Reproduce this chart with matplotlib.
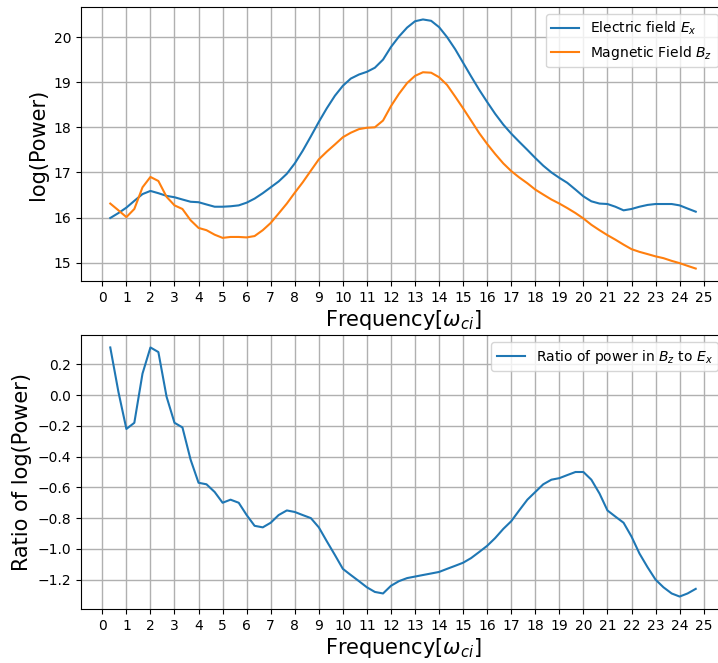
import numpy as np
import matplotlib
matplotlib.use("Agg")
import matplotlib.pyplot as plt

# frequency samples (units of omega_ci), every third of a unit
freq = [0.33, 0.67, 1.00, 1.33, 1.67, 2.00, 2.33, 2.67, 3.00, 3.33,
        3.67, 4.00, 4.33, 4.67, 5.00, 5.33, 5.67, 6.00, 6.33, 6.67,
        7.00, 7.33, 7.67, 8.00, 8.33, 8.67, 9.00, 9.33, 9.67, 10.00,
        10.33, 10.67, 11.00, 11.33, 11.67, 12.00, 12.33, 12.67, 13.00, 13.33,
        13.67, 14.00, 14.33, 14.67, 15.00, 15.33, 15.67, 16.00, 16.33, 16.67,
        17.00, 17.33, 17.67, 18.00, 18.33, 18.67, 19.00, 19.33, 19.67, 20.00,
        20.33, 20.67, 21.00, 21.33, 21.67, 22.00, 22.33, 22.67, 23.00, 23.33,
        23.67, 24.00, 24.33, 24.67]

log_ex = [15.99, 16.10, 16.22, 16.37, 16.52, 16.59, 16.54, 16.48, 16.45, 16.40,
          16.35, 16.34, 16.29, 16.24, 16.24, 16.25, 16.27, 16.33, 16.42, 16.54,
          16.67, 16.80, 16.97, 17.20, 17.48, 17.80, 18.12, 18.42, 18.70, 18.92,
          19.08, 19.17, 19.23, 19.32, 19.50, 19.78, 20.01, 20.21, 20.35, 20.39,
          20.36, 20.22, 20.00, 19.73, 19.43, 19.13, 18.83, 18.56, 18.30, 18.06,
          17.86, 17.68, 17.50, 17.32, 17.15, 17.00, 16.88, 16.77, 16.62, 16.47,
          16.36, 16.31, 16.30, 16.24, 16.16, 16.19, 16.24, 16.28, 16.30, 16.30,
          16.30, 16.27, 16.20, 16.13]

log_bz = [16.31, 16.16, 16.01, 16.19, 16.67, 16.90, 16.81, 16.46, 16.27, 16.19,
          15.94, 15.77, 15.72, 15.62, 15.55, 15.57, 15.57, 15.56, 15.59, 15.72,
          15.88, 16.09, 16.31, 16.55, 16.78, 17.04, 17.29, 17.46, 17.62, 17.78,
          17.88, 17.96, 17.99, 18.00, 18.15, 18.47, 18.74, 18.98, 19.14, 19.22,
          19.21, 19.11, 18.94, 18.68, 18.42, 18.15, 17.87, 17.63, 17.41, 17.20,
          17.03, 16.89, 16.76, 16.62, 16.51, 16.40, 16.31, 16.21, 16.10, 15.98,
          15.84, 15.72, 15.61, 15.51, 15.40, 15.30, 15.24, 15.19, 15.14, 15.10,
          15.04, 14.99, 14.93, 14.87]

ratio = [0.31, 0.02, -0.22, -0.18, 0.14, 0.31, 0.28, -0.01, -0.18, -0.21,
         -0.42, -0.57, -0.58, -0.63, -0.70, -0.68, -0.70, -0.78, -0.85, -0.86,
         -0.83, -0.78, -0.75, -0.76, -0.78, -0.80, -0.86, -0.95, -1.04, -1.13,
         -1.17, -1.21, -1.25, -1.28, -1.29, -1.24, -1.21, -1.19, -1.18, -1.17,
         -1.16, -1.15, -1.13, -1.11, -1.09, -1.06, -1.02, -0.98, -0.93, -0.87,
         -0.82, -0.75, -0.68, -0.63, -0.58, -0.55, -0.54, -0.52, -0.50, -0.50,
         -0.55, -0.64, -0.75, -0.79, -0.83, -0.92, -1.03, -1.12, -1.20, -1.25,
         -1.29, -1.31, -1.29, -1.26]

xticks = list(range(0, 26))

W, H = 718, 663
fig = plt.figure(figsize=(W / 100, H / 100), dpi=100)

# axes boxes in pixels: left, top, right, bottom (right edge runs past the figure)
ax1 = fig.add_axes([81 / W, 1 - 281 / H, (725 - 81) / W, (281 - 7) / H])
ax2 = fig.add_axes([81 / W, 1 - 609 / H, (725 - 81) / W, (609 - 335) / H])

ax1.plot(freq, log_ex, color="#1f77b4", lw=1.5, label="Electric field $E_x$")
ax1.plot(freq, log_bz, color="#ff7f0e", lw=1.5, label="Magnetic Field $B_z$")
ax1.set_ylabel("log(Power)", fontsize=15)
ax1.legend(loc="upper right", fontsize=10)

ax2.plot(freq, ratio, color="#1f77b4", lw=1.5,
         label="Ratio of power in $B_z$ to $E_x$")
ax2.set_ylabel("Ratio of log(Power)", fontsize=15)
ax2.legend(loc="upper right", fontsize=10)

for ax in (ax1, ax2):
    ax.set_xticks(xticks)
    ax.set_xlabel(r"Frequency[$\omega_{ci}$]", fontsize=15, labelpad=2)
    ax.tick_params(labelsize=10)
    ax.grid(True, color="#b0b0b0", lw=1)

fig.savefig("out.png", dpi=100)
